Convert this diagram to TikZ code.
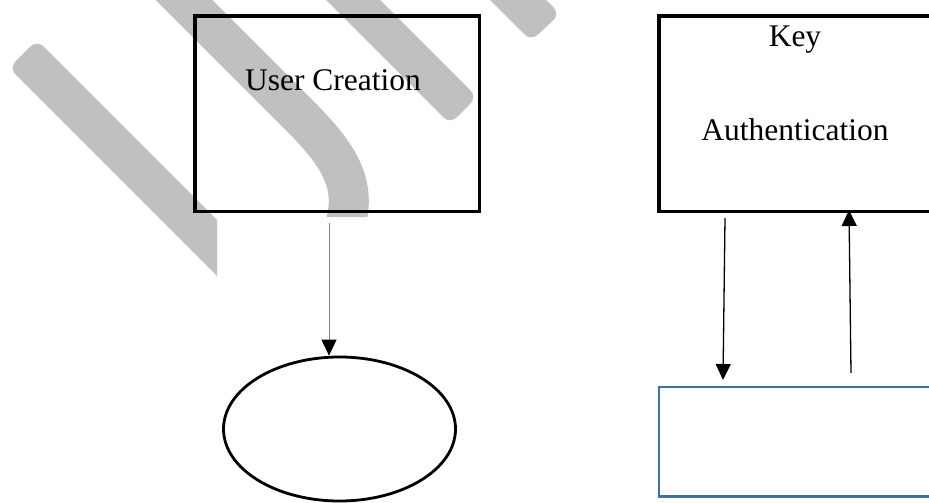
\documentclass[tikz,border=0pt]{standalone}
\usepackage{fontspec}
\setmainfont{Liberation Serif}
\usetikzlibrary{arrows.meta,shapes.geometric}
\definecolor{wm}{HTML}{C0C0C0}
\definecolor{shapeblue}{HTML}{41719C}
\begin{document}
\begin{tikzpicture}[x=1pt,y=-1pt,
  box/.style={draw=black,line width=3.3pt,rectangle,inner sep=0pt},
  lbl/.style={font=\fontsize{31.5}{36}\selectfont,anchor=base,inner sep=0pt},
  arr/.style={-{Triangle[width=15pt,length=16pt,color=black]}},
  band/.style={fill=wm,rounded corners=9pt}]
\useasboundingbox (0,0) rectangle (929,503);
\clip (0,0) rectangle (929,503);
% watermark strokes
\begin{scope}
\clip (0,0) -- (929,0) -- (929,217) -- (217,217) -- (217,503) -- (0,503) -- cycle;
\fill[band] (37,40) -- (300,303) -- (272,331) -- (9,68) -- cycle;
\draw[wm,line width=40pt] (160,-24) -- (300,116) .. controls (340,156) and (357,185) .. (345,225);
\fill[band] (337,-43) -- (477,97) -- (450,124) -- (310,-16) -- cycle;
\fill[band] (500,-46) -- (560,14) -- (531,41) -- (471,-19) -- cycle;
\end{scope}
% boxes
\node[box,minimum width=284.3pt,minimum height=195.7pt] (uc) at (337.15,113.85) {};
\node[lbl] (uct) at (333,90.5) {User Creation};
\node[box,minimum width=276pt,minimum height=195.7pt] (ka) at (797,113.85) {};
\node[lbl] (kat1) at (795,47) {Key};
\node[lbl] (kat2) at (795,140) {Authentication};
\node[draw,ellipse,line width=2.8pt,minimum width=232pt,minimum height=144pt,inner sep=0pt] (ell) at (339.5,429) {};
\node[draw=shapeblue,line width=2.5pt,minimum width=280pt,minimum height=109.5pt,inner sep=0pt] (rb) at (799,441.75) {};
% connectors
\coordinate (a1s) at (329,223);
\draw[arr,draw=gray,line width=1pt] (a1s) -- (a1s |- ell.north);
\coordinate (a2s) at (725,218);
\coordinate (a2e) at (723,380);
\draw[arr,line width=1.3pt] (a2s) -- (a2e);
\coordinate (a3s) at (851,373);
\coordinate (a3e) at (849,210);
\draw[arr,line width=1.3pt] (a3s) -- (a3e);
\end{tikzpicture}
\end{document}
